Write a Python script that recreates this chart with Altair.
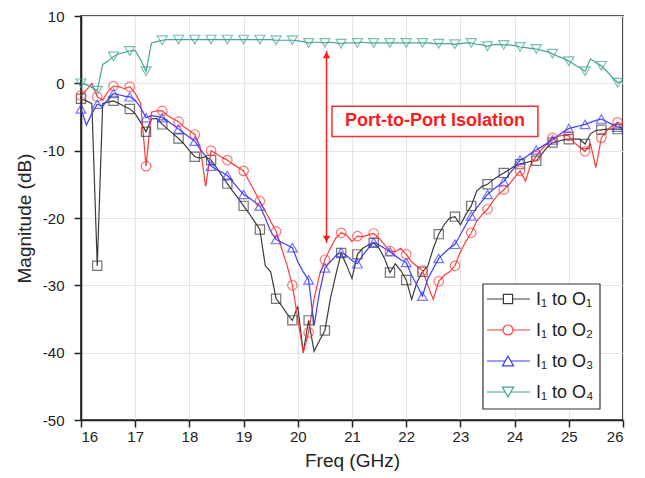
import altair as alt
import pandas as pd

# ---------------- data ----------------
freq = [round(16 + 0.1 * i, 1) for i in range(101)]  # 16.0 ... 26.0 GHz grid

o1 = [-2.3, -2.6, -3.0, -27.1, -3.0, -2.8, -2.6, -3.0, -3.4, -3.8,
      -4.5, -5.8, -7.2, -5.3, -5.2, -6.1, -6.8, -7.5, -8.2, -9.0,
      -10.0, -10.9, -11.1, -10.9, -11.4, -12.5, -13.7, -14.9, -16.0, -17.1,
      -18.2, -19.3, -20.5, -21.7, -27.1, -28.0, -32.0, -33.0, -34.2, -35.2,
      -33.1, -40.0, -35.2, -39.8, -38.2, -36.7, -32.0, -28.5, -25.2, -27.0,
      -29.0, -25.4, -24.5, -24.0, -23.7, -24.5, -26.0, -28.1, -26.8, -27.8,
      -29.2, -32.1, -29.5, -28.0, -27.1, -24.5, -22.4, -21.0, -20.0, -19.8,
      -21.0, -19.5, -18.2, -16.0, -15.3, -15.0, -14.3, -13.8, -13.3, -12.8,
      -12.3, -12.0, -11.8, -11.6, -11.5, -10.5, -9.5, -8.8, -8.6, -8.4,
      -8.3, -8.3, -8.3, -9.0, -7.5, -7.0, -6.9, -6.8, -6.8, -6.8,
      -6.8]

o2 = [-1.8, -1.0, 0.0, -2.0, -2.5, -1.2, -0.4, -0.5, -0.8, -0.5,
      -1.5, -3.0, -12.3, -4.3, -4.1, -4.1, -4.8, -5.3, -5.7, -6.5,
      -7.0, -7.6, -9.5, -15.3, -10.0, -10.5, -11.0, -11.4, -12.0, -12.5,
      -13.0, -14.5, -16.0, -17.5, -19.0, -20.5, -22.0, -24.5, -27.0, -30.0,
      -35.0, -40.0, -37.0, -32.0, -28.5, -26.2, -24.5, -23.0, -22.2, -22.5,
      -23.5, -22.7, -22.8, -22.5, -22.3, -23.0, -24.0, -24.9, -25.0, -24.5,
      -25.4, -26.5, -27.2, -27.8, -30.0, -32.1, -29.4, -28.5, -28.0, -27.1,
      -25.0, -23.5, -22.2, -20.5, -19.5, -18.7, -17.5, -16.5, -15.8, -15.0,
      -14.0, -13.0, -14.5, -12.0, -10.8, -9.8, -9.0, -8.1, -7.9, -7.7,
      -7.8, -8.8, -9.5, -10.1, -9.0, -12.5, -8.1, -7.0, -6.3, -5.8,
      -6.0]

o3 = [-3.8, -6.2, -4.5, -3.1, -3.4, -2.4, -1.5, -1.7, -1.9, -2.0,
      -2.5, -3.6, -5.1, -4.8, -4.9, -5.1, -5.6, -6.2, -6.8, -7.4,
      -8.0, -8.6, -9.8, -10.8, -12.3, -12.8, -13.2, -13.7, -14.6, -15.6,
      -16.5, -17.0, -17.6, -18.2, -20.0, -22.0, -23.2, -23.6, -24.0, -24.4,
      -26.5, -28.0, -29.2, -36.0, -31.0, -27.4, -26.5, -25.6, -25.1, -25.6,
      -26.3, -26.8, -25.5, -24.5, -23.6, -24.0, -24.5, -25.0, -25.6, -26.2,
      -26.6, -28.5, -30.0, -31.6, -29.0, -27.5, -26.0, -25.2, -24.5, -23.9,
      -22.5, -21.0, -19.7, -18.5, -17.5, -16.5, -15.8, -15.2, -14.6, -13.5,
      -12.5, -11.4, -11.0, -10.4, -9.9, -9.4, -8.9, -8.4, -7.8, -7.2,
      -6.7, -6.5, -6.3, -6.1, -5.8, -5.5, -5.3, -5.7, -6.1, -6.5,
      -6.6]

o4 = [0.0, -0.2, -0.6, -1.1, 2.8, 3.3, 4.0, 4.4, 4.6, 4.8,
      4.9, 3.5, 1.8, 6.0, 6.2, 6.4, 6.5, 6.5, 6.5, 6.5,
      6.5, 6.5, 6.5, 6.5, 6.5, 6.5, 6.5, 6.5, 6.5, 6.5,
      6.5, 6.5, 6.5, 6.5, 6.5, 6.5, 6.4, 6.4, 6.4, 6.4,
      6.3, 6.2, 6.0, 6.1, 6.1, 6.0, 6.1, 6.0, 5.9, 6.0,
      6.0, 6.0, 6.1, 6.0, 6.0, 6.0, 6.0, 6.0, 6.0, 6.0,
      6.0, 6.0, 6.0, 6.0, 6.0, 5.9, 5.9, 5.9, 5.9, 5.8,
      5.9, 6.0, 6.0, 5.8, 5.7, 5.5, 5.7, 5.8, 5.7, 5.7,
      5.6, 5.4, 5.3, 5.2, 5.1, 4.9, 4.7, 4.4, 4.0, 3.7,
      3.3, 2.8, 2.3, 1.8, 3.6, 3.1, 2.6, 1.8, 0.9, 0.1,
      0.3]

series_names = ["I₁ to O₁", "I₁ to O₂", "I₁ to O₃", "I₁ to O₄"]
series_colors = ["#3a3a3a", "#ff3b3b", "#3d3dff", "#45a596"]
series_shapes = ["square", "circle", "triangle-up", "triangle-down"]
series_sizes = [85, 100, 125, 125]

# annotation (arrow + boxed label)
arrow_freq = [20.53]
arrow_top = [4.8]
arrow_bottom = [-23.7]
note_text = ["Port-to-Port Isolation"]
note_freq = [22.53]
note_mag = [-5.65]
note_box_freq = [20.63, 24.43]
note_box_mag = [-3.42, -7.88]

# ---------------- tables ----------------
rows = []
for name, vals in zip(series_names, [o1, o2, o3, o4]):
    for i, (f, v) in enumerate(zip(freq, vals)):
        rows.append({"freq": f, "mag": v, "series": name, "marker": i % 3 == 0})
df = pd.DataFrame(rows)

FONT = "Liberation Sans"
xs = alt.Scale(domain=[16, 26], nice=False, zero=False)
ys = alt.Scale(domain=[-50, 10], nice=False, zero=False)
cs = alt.Scale(domain=series_names, range=series_colors)
ss = alt.Scale(domain=series_names, range=series_shapes)
zs = alt.Scale(domain=series_names, range=series_sizes)

x_axis = alt.Axis(values=list(range(16, 27)), title="Freq (GHz)", grid=True,
                  gridColor="#e4e4e4", tickSize=7, tickWidth=1.5, tickColor="#222",
                  domainColor="#222", domainWidth=1.6, labelFontSize=15,
                  labelPadding=2, titleFontSize=19, titlePadding=7,
                  labelColor="#222", titleColor="#222", titleFontWeight="normal")
y_axis = alt.Axis(values=list(range(-50, 11, 5)), title="Magnitude (dB)",
                  labelExpr="datum.value % 10 === 0 ? '' + datum.value : ''",
                  tickSize={"condition": {"test": "datum.value % 10 === 0", "value": 7}, "value": 4},
                  gridOpacity={"condition": {"test": "datum.value % 10 === 0", "value": 1}, "value": 0},
                  grid=True, gridColor="#e4e4e4", tickWidth=1.5, tickColor="#222",
                  domainColor="#222", domainWidth=1.6, labelFontSize=15, labelPadding=10,
                  labelOverlap=False, titleFontSize=19, titlePadding=8,
                  labelColor="#222", titleColor="#222", titleFontWeight="normal")

base = alt.Chart(df)
lines = base.mark_line(strokeWidth=1.2).encode(
    x=alt.X("freq:Q", scale=xs, axis=x_axis),
    y=alt.Y("mag:Q", scale=ys, axis=y_axis),
    color=alt.Color("series:N", scale=cs, legend=None),
    detail="series:N",
)
points = base.transform_filter("datum.marker").mark_point(filled=False, strokeWidth=1.2).encode(
    x=alt.X("freq:Q", scale=xs),
    y=alt.Y("mag:Q", scale=ys),
    color=alt.Color("series:N", scale=cs, legend=None),
    shape=alt.Shape("series:N", scale=ss, legend=None),
    size=alt.Size("series:N", scale=zs, legend=None),
)

arrow_df = pd.DataFrame({"f": arrow_freq, "top": arrow_top, "bot": arrow_bottom})
arrow_rule = alt.Chart(arrow_df).mark_rule(color="#ff1a1a", strokeWidth=1.5).encode(
    x=alt.X("f:Q", scale=xs), y=alt.Y("top:Q", scale=ys), y2="bot:Q")
arrow_up = alt.Chart(arrow_df).mark_point(shape="triangle-up", filled=True, color="#ff1a1a",
                                          size=55, opacity=1, yOffset=4).encode(
    x=alt.X("f:Q", scale=xs), y=alt.Y("top:Q", scale=ys))
arrow_dn = alt.Chart(arrow_df).mark_point(shape="triangle-down", filled=True, color="#ff1a1a",
                                          size=55, opacity=1, yOffset=-4).encode(
    x=alt.X("f:Q", scale=xs), y=alt.Y("bot:Q", scale=ys))

box_df = pd.DataFrame({"f1": [note_box_freq[0]], "f2": [note_box_freq[1]],
                       "m1": [note_box_mag[0]], "m2": [note_box_mag[1]]})
note_box = alt.Chart(box_df).mark_rect(fill="white", stroke="#ff2a2a", strokeWidth=1.5).encode(
    x=alt.X("f1:Q", scale=xs), x2="f2:Q", y=alt.Y("m1:Q", scale=ys), y2="m2:Q")
note_df = pd.DataFrame({"f": note_freq, "m": note_mag, "t": note_text})
note = alt.Chart(note_df).mark_text(font=FONT, fontSize=18, fontWeight="bold", color="#ff1a1a",
                                    align="center", baseline="middle").encode(
    x=alt.X("f:Q", scale=xs), y=alt.Y("m:Q", scale=ys), text="t:N")

# legend (layout element, pixel positions inside the plot area)
one = pd.DataFrame({"k": [0]})
leg_layers = [alt.Chart(one).mark_rect(fill="white", stroke="#333", strokeWidth=1.2).encode(
    x=alt.value(402), x2=alt.value(519), y=alt.value(268), y2=alt.value(393))]
for i, (name, col, shp, sz) in enumerate(zip(series_names, series_colors, series_shapes, series_sizes)):
    yy = 283 + 31 * i
    leg_layers.append(alt.Chart(one).mark_rule(color=col, strokeWidth=1.2).encode(
        x=alt.value(406), x2=alt.value(449), y=alt.value(yy)))
    leg_layers.append(alt.Chart(one).mark_point(shape=shp, size=sz, filled=False, color=col,
                                                strokeWidth=1.2, fill="white", opacity=1).encode(
        x=alt.value(427), y=alt.value(yy)))
    leg_layers.append(alt.Chart(one).mark_text(text=name, font=FONT, fontSize=18, color="#222",
                                               align="left", baseline="middle").encode(
        x=alt.value(455), y=alt.value(yy + 1)))

chart = alt.layer(lines, points, arrow_rule, arrow_up, arrow_dn, note_box, note, *leg_layers).properties(
    width=542, height=404,
    autosize=alt.AutoSizeParams(type="none"),
    padding={"left": 73, "top": 8, "right": 14, "bottom": 54},
).configure_view(stroke="#222", strokeWidth=1.6).configure_axis(
    labelFont=FONT, titleFont=FONT).configure_text(font=FONT)

chart.save("out.html", embed_options={"renderer": "svg", "actions": False})
